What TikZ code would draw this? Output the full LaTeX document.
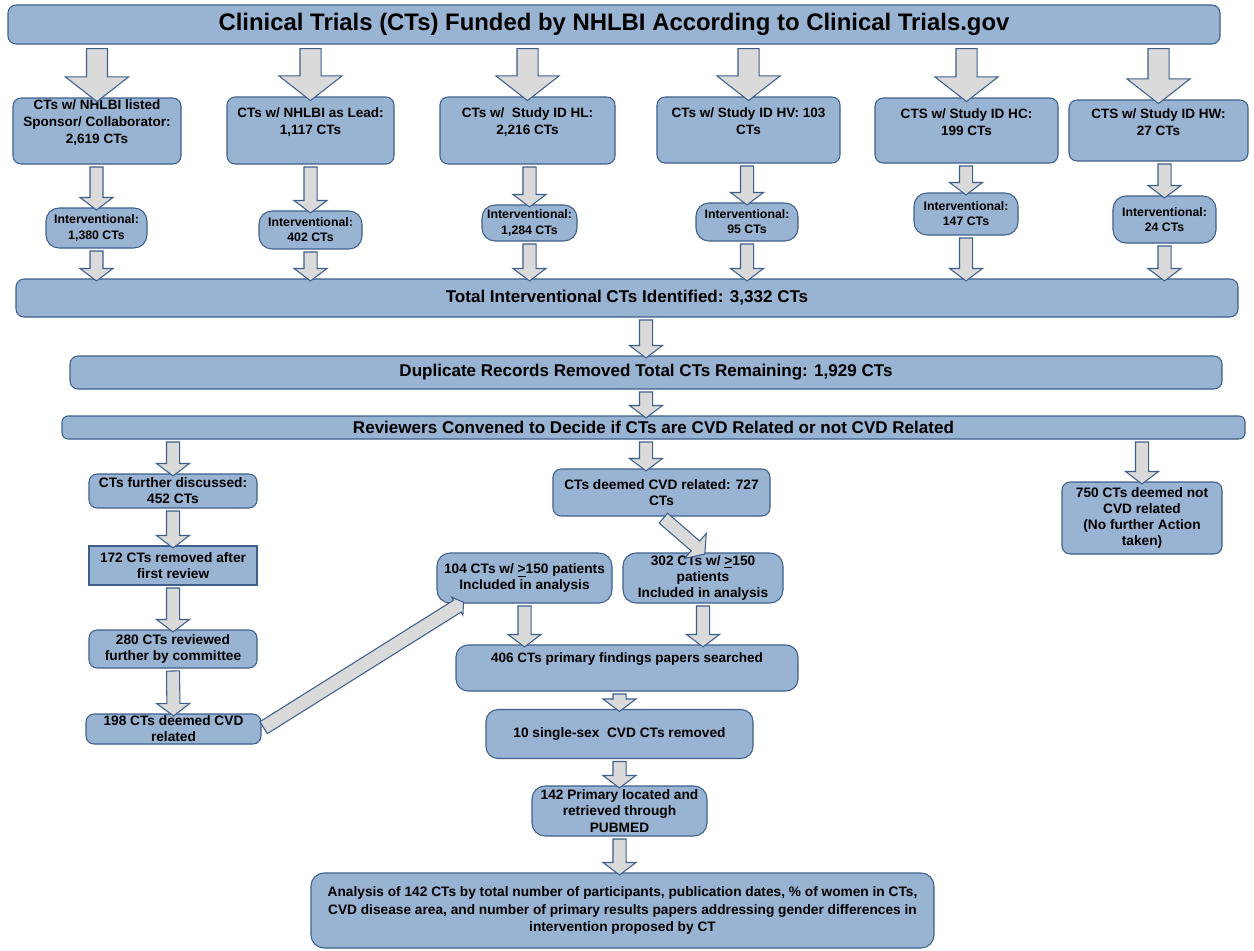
\documentclass[tikz,border=0pt]{standalone}
\usepackage{fontspec}
\setmainfont{Liberation Sans}
\usetikzlibrary{calc,shapes.arrows}

\definecolor{boxfill}{RGB}{153,179,210}
\definecolor{boxline}{RGB}{62,95,138}
\definecolor{arrowfill}{RGB}{218,218,218}

\tikzstyle{bx}=[shape=rectangle,
                rounded corners=0.16cm,
                draw=boxline,
                fill=boxfill,
                line width=0.6pt,
                align=center,
                inner sep=0pt,
                font=\bfseries\fontsize{7.8}{9.2}\selectfont]
\tikzstyle{pill}=[bx,
                rounded corners=0.26cm,
                font=\bfseries\fontsize{7}{8.6}\selectfont]
\tikzstyle{wide}=[bx,
                font=\bfseries\fontsize{9.7}{11}\selectfont]
\tikzstyle{toptext}=[font=\bfseries\fontsize{7.7}{9.6}\selectfont,
                align=center,
                yshift=0.17cm]
\tikzstyle{bigarrow}=[single arrow,
                draw=boxline,
                fill=arrowfill,
                line width=0.6pt,
                inner xsep=0pt,
                inner ysep=0.2cm,
                outer sep=0pt,
                single arrow head extend=0.42cm,
                single arrow tip angle=104,
                single arrow head indent=0pt]
\tikzstyle{smallarrow}=[bigarrow,
                inner ysep=0.12cm,
                single arrow head extend=0.2cm,
                single arrow tip angle=106]
\tikzstyle{slimarrow}=[bigarrow,
                inner ysep=0.13cm,
                single arrow head extend=0.07cm,
                single arrow tip angle=110]
\tikzset{boxsize/.style 2 args={minimum width=#1*0.02cm, minimum height=#2*0.02cm}}

% block arrow from one point to another
\newcommand{\flow}[3][smallarrow]{%
  \path let \p1=($(#3)-(#2)$), \n1={veclen(\x1,\y1)}, \n2={atan2(\y1,\x1)} in
    node[#1, minimum height=\n1, rotate=\n2] at ($(#2)!0.5!(#3)$) {};}

\begin{document}
\begin{tikzpicture}[x=0.02cm,y=-0.02cm]
\useasboundingbox (0,0) rectangle (1254,950);

% title
\node[bx, boxsize={1212}{39}, font=\bfseries\fontsize{13.6}{15}\selectfont] (title) at (614,24.5)
  {Clinical Trials (CTs) Funded by NHLBI According to Clinical Trials.gov};

% source searches
\node[bx, boxsize={168}{66}] (srcA) at (97,131)
  [label={[toptext]center:{CTs w/ NHLBI listed\\Sponsor/ Collaborator:\\2,619 CTs}}] {};
\node[bx, boxsize={167}{67}] (srcB) at (310.5,130.5)
  [label={[toptext]center:{CTs w/ NHLBI as Lead:\\1,117 CTs}}] {};
\node[bx, boxsize={175}{67}] (srcC) at (527.5,130.5)
  [label={[toptext]center:{CTs w/ \ Study ID HL:\\2,216 CTs}}] {};
\node[bx, boxsize={183}{66}] (srcD) at (748.5,130)
  [label={[toptext]center:{CTs w/ Study ID HV: 103\\CTs}}] {};
\node[bx, boxsize={183}{65}] (srcE) at (966.5,130.5)
  [label={[toptext]center:{CTS w/ Study ID HC:\\199 CTs}}] {};
\node[bx, boxsize={179}{61}] (srcF) at (1158.5,130.5)
  [label={[toptext]center:{CTS w/ Study ID HW:\\27 CTs}}] {};

% interventional counts
\node[pill, boxsize={101}{40}] (intA) at (96.5,228)   {Interventional:\\1,380 CTs};
\node[pill, boxsize={103}{38}] (intB) at (310.5,230)  {Interventional:\\402 CTs};
\node[pill, boxsize={95}{36}]  (intC) at (529.5,223)  {Interventional:\\1,284 CTs};
\node[pill, boxsize={102}{38}] (intD) at (747,222)    {Interventional:\\95 CTs};
\node[pill, boxsize={104}{42}] (intE) at (966,214)    {Interventional:\\147 CTs};
\node[pill, boxsize={103}{47}] (intF) at (1164.5,219.5) {Interventional:\\24 CTs};

% totals and review
\node[wide, boxsize={1222}{38}] (total) at (627,298)
  {Total Interventional CTs Identified: 3,332 CTs};
\node[wide, boxsize={1152}{33}] (dup) at (646,372.5)
  {Duplicate Records Removed Total CTs Remaining: 1,929 CTs};
\node[wide, boxsize={1183}{23}, rounded corners=0.12cm] (rev) at (653.5,427.5)
  {Reviewers Convened to Decide if CTs are CVD Related or not CVD Related};

% further discussed branch
\node[bx, boxsize={168}{34}] (fur)  at (173,491)   {CTs further discussed:\\452 CTs};
\node[bx, boxsize={168}{39}, sharp corners] (rem) at (173,565.5) {172 CTs removed after\\first review};
\node[bx, boxsize={168}{38}] (revd) at (173,649)   {280 CTs reviewed\\further by committee};
\node[bx, boxsize={175}{30}] (deem) at (173.5,729) {198 CTs deemed CVD\\related};

% CVD related branch
\node[bx, boxsize={217}{47}] (cvd) at (661.5,492.5) {CTs deemed CVD related: 727\\CTs};
\node[bx, boxsize={160}{72}] (notcvd) at (1142,518)
  {750 CTs deemed not\\CVD related\\(No further Action\\taken)};
\node[bx, boxsize={175}{50}, rounded corners=0.26cm] (p104) at (524.5,578)
  {104 CTs w/ \underline{>}150 patients\\Included in analysis};
\node[bx, boxsize={160}{50}, rounded corners=0.26cm] (p302) at (703,578)
  {302 CTs w/ \underline{>}150\\patients\\Included in analysis};
\node[bx, boxsize={342}{46}, rounded corners=0.24cm] (f406) at (627,668)
  [label={[toptext, yshift=0.01cm]center:{406 CTs primary findings papers searched}}] {};
\node[bx, boxsize={267}{49}, rounded corners=0.24cm] (single) at (619.5,734)
  {10 single-sex \ CVD CTs removed};
\node[bx, boxsize={175}{50}, rounded corners=0.26cm] (pub) at (619.5,811)
  {142 Primary located and\\retrieved through\\PUBMED};
\node[bx, boxsize={623}{75}, rounded corners=0.26cm, font=\bfseries\fontsize{7.8}{9.8}\selectfont] (ana) at (622.5,910.5)
  {Analysis of 142 CTs by total number of participants, publication dates, \% of women in CTs,\\
   CVD disease area, and number of primary results papers addressing gender differences in\\
   intervention proposed by CT};

\coordinate (tip104) at ($(p104.south west)+(25,0)$);

% arrows from title
\flow[bigarrow]{srcA.north |- title.south}{srcA.north}
\flow[bigarrow]{srcB.north |- title.south}{srcB.north}
\flow[bigarrow]{srcC.north |- title.south}{srcC.north}
\flow[bigarrow]{srcD.north |- title.south}{srcD.north}
\flow[bigarrow]{srcE.north |- title.south}{srcE.north}
\flow[bigarrow]{srcF.north |- title.south}{srcF.north}

% sources to interventional, interventional to total
\flow{intA.north |- srcA.south}{intA.north}
\flow{intB.north |- srcB.south}{intB.north}
\flow{intC.north |- srcC.south}{intC.north}
\flow{intD.north |- srcD.south}{intD.north}
\flow{intE.north |- srcE.south}{intE.north}
\flow{intF.north |- srcF.south}{intF.north}
\flow{intA.south}{intA.south |- total.north}
\flow{intB.south}{intB.south |- total.north}
\flow{intC.south}{intC.south |- total.north}
\flow{intD.south}{intD.south |- total.north}
\flow{intE.south}{intE.south |- total.north}
\flow{intF.south}{intF.south |- total.north}

% down the middle
\flow{dup.north |- total.south}{dup.north}
\flow{dup.south}{dup.south |- rev.north}
\flow{fur.north |- rev.south}{fur.north}
\flow{dup.south |- rev.south}{dup.south |- cvd.north}
\flow{notcvd.north |- rev.south}{notcvd.north}

% left branch
\flow{fur.south}{rem.north}
\flow{rem.south}{revd.north}
\flow{revd.south}{deem.north}
\flow[slimarrow]{deem.east}{tip104}

% right branch
\flow{cvd.south}{p302.north}
\flow{p104.south}{p104.south |- f406.north}
\flow{p302.south}{p302.south |- f406.north}
\flow{single.north |- f406.south}{single.north}
\flow{single.south}{pub.north}
\flow{pub.south}{pub.south |- ana.north}

\end{tikzpicture}
\end{document}
